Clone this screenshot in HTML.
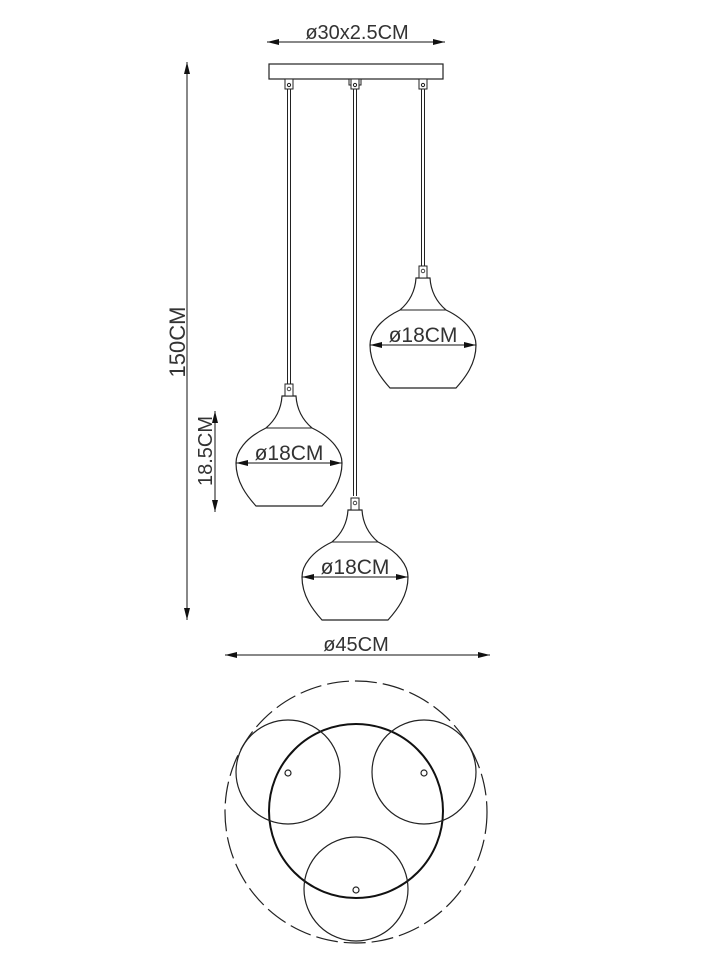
<!DOCTYPE html>
<html><head><meta charset="utf-8"><style>
html,body{margin:0;padding:0;background:#fff;}
svg{display:block;}
text{font-family:"Liberation Sans",sans-serif;fill:#333;}
</style></head><body>
<svg width="720" height="960" viewBox="0 0 720 960" xmlns="http://www.w3.org/2000/svg">
<defs>
<marker id="a" viewBox="0 0 12 6" refX="12" refY="3" markerWidth="12" markerHeight="6" orient="auto-start-reverse" markerUnits="userSpaceOnUse"><path d="M0,0 L12,3 L0,6 z" fill="#111"/></marker>
<g id="shade">
<path d="M-7,12 C-8,28 -16,38 -23,44 C-44,54 -53,68 -53,79 C-53,98 -42,112 -33,122 L33,122 C42,112 53,98 53,79 C53,68 44,54 23,44 C16,38 8,28 7,12 Z" fill="none" stroke="#222" stroke-width="1.2"/>
<line x1="-23" y1="44" x2="23" y2="44" stroke="#222" stroke-width="1"/>
<rect x="-4" y="0" width="8" height="12" fill="#fff" stroke="#222" stroke-width="1"/>
<circle cx="0" cy="5" r="1.8" fill="none" stroke="#222" stroke-width="0.8"/>
<line x1="-53" y1="79" x2="53" y2="79" stroke="#111" stroke-width="1" marker-start="url(#a)" marker-end="url(#a)"/>
<text x="0" y="76" font-size="21" text-anchor="middle">ø18CM</text>
</g>
</defs>
<line x1="267" y1="42" x2="445" y2="42" stroke="#111" marker-start="url(#a)" marker-end="url(#a)"/>
<text x="357" y="39" font-size="20" text-anchor="middle">ø30x2.5CM</text>
<rect x="269" y="64" width="174" height="15" fill="#fff" stroke="#222" stroke-width="1.2"/>
<g stroke="#222" stroke-width="1">
<line x1="287.5" y1="88" x2="287.5" y2="384"/><line x1="290.5" y1="88" x2="290.5" y2="384"/>
<line x1="353.5" y1="88" x2="353.5" y2="496"/><line x1="356.5" y1="88" x2="356.5" y2="496"/>
<line x1="421.5" y1="88" x2="421.5" y2="267"/><line x1="424.5" y1="88" x2="424.5" y2="267"/>
</g>
<g fill="#fff" stroke="#222" stroke-width="1">
<rect x="285" y="79" width="8" height="10"/><circle cx="289" cy="85" r="1.6"/>
<rect x="349" y="79" width="12" height="6"/><rect x="351" y="79" width="8" height="10"/><circle cx="355" cy="85" r="1.6"/>
<rect x="419" y="79" width="8" height="10"/><circle cx="423" cy="85" r="1.6"/>
</g>
<use href="#shade" x="289" y="384"/>
<use href="#shade" x="355" y="498"/>
<use href="#shade" x="423" y="266"/>
<line x1="187" y1="62" x2="187" y2="620" stroke="#111" marker-start="url(#a)" marker-end="url(#a)"/>
<text transform="translate(185,342) rotate(-90)" font-size="22" text-anchor="middle">150CM</text>
<line x1="215" y1="411" x2="215" y2="512" stroke="#111" marker-start="url(#a)" marker-end="url(#a)"/>
<text transform="translate(212,451) rotate(-90)" font-size="20" text-anchor="middle">18.5CM</text>
<line x1="225" y1="655" x2="490" y2="655" stroke="#111" marker-start="url(#a)" marker-end="url(#a)"/>
<text x="356" y="651" font-size="20" text-anchor="middle">ø45CM</text>
<circle cx="356" cy="812" r="131" fill="none" stroke="#222" stroke-width="1.2" stroke-dasharray="22,6"/>
<circle cx="356" cy="811" r="87" fill="none" stroke="#111" stroke-width="2"/>
<g fill="none" stroke="#222" stroke-width="1.2">
<circle cx="288" cy="772" r="52"/><circle cx="424" cy="772" r="52"/><circle cx="356" cy="889" r="52"/>
<circle cx="288" cy="773" r="3"/><circle cx="424" cy="773" r="3"/><circle cx="356" cy="890" r="3"/>
</g>
</svg>
</body></html>
